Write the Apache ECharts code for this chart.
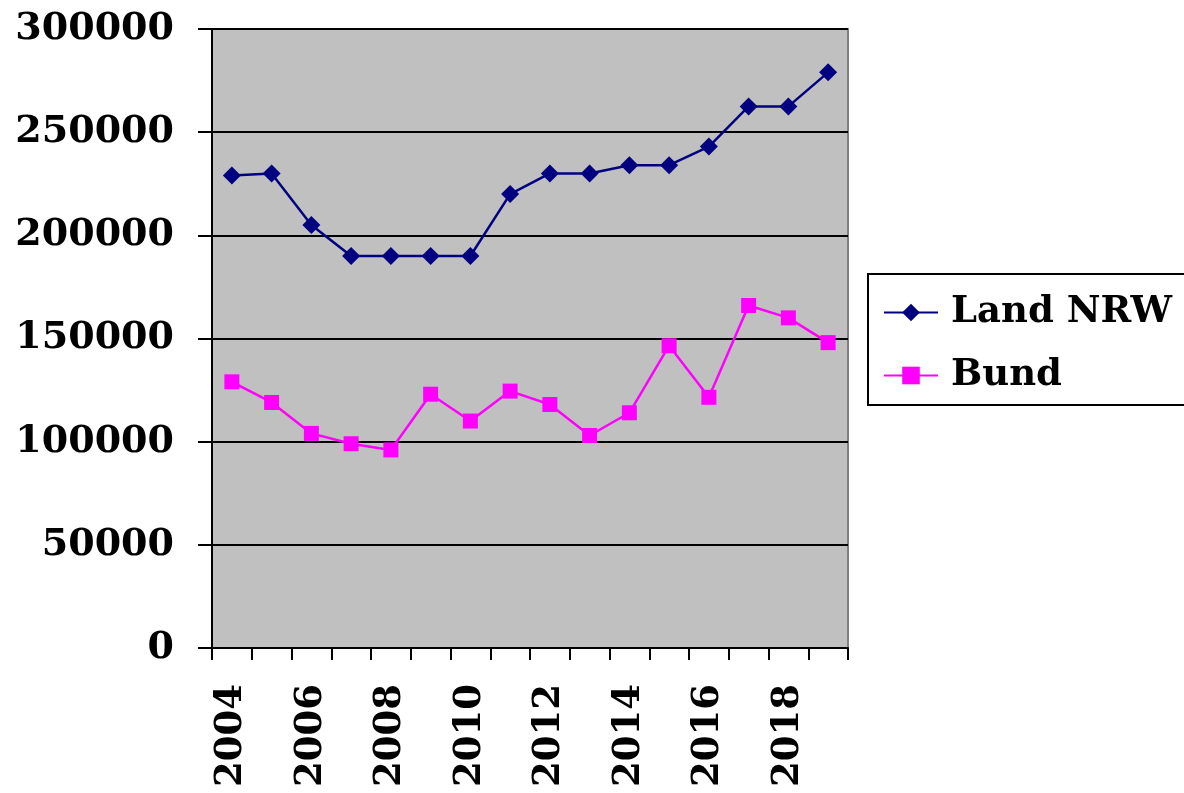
<!DOCTYPE html>
<html>
<head>
<meta charset="utf-8">
<script src="https://cdn.jsdelivr.net/npm/echarts@6/dist/echarts.min.js"></script>
<style>
  html, body { margin: 0; padding: 0; background: #fff; }
  #chart { width: 1184px; height: 793px; }
</style>
</head>
<body>
<div id="chart"></div>
<script>
const years = ['2004', '2005', '2006', '2007', '2008', '2009', '2010', '2011',
  '2012', '2013', '2014', '2015', '2016', '2017', '2018', '2019']
const landNRW = [229000, 230000, 205000, 190000, 190000, 190000, 190000, 220000,
  230000, 230000, 234000, 234000, 243000, 262500, 262500, 279000]
const bund = [129000, 119000, 104000, 99000, 96000, 123000, 110000, 124500,
  118000, 103000, 114000, 146500, 121500, 166000, 160000, 148000]

const font = 'DejaVu Serif'
const chart = echarts.init(document.getElementById('chart'))

chart.setOption({
  animation: false,
  backgroundColor: '#fff',
  grid: {
    left: 212, right: 336, top: 29, bottom: 145,
    outerBoundsMode: 'none',
    containLabel: false,
    show: true,
    backgroundColor: '#c0c0c0',
    borderColor: '#808080',
    borderWidth: 2
  },
  legend: {
    left: 868, top: 274,
    orient: 'vertical',
    backgroundColor: '#fff',
    borderColor: '#000',
    borderWidth: 2,
    padding: [20, 30, 11, 15],
    itemGap: 26,
    itemWidth: 54,
    itemHeight: 22,
    textStyle: {
      fontFamily: font, fontWeight: 'bold', fontSize: 37, color: '#000',
      padding: [0, 0, 0, 8]
    },
    data: ['Land NRW', 'Bund']
  },
  xAxis: {
    type: 'category',
    data: years,
    boundaryGap: true,
    axisLine: { lineStyle: { color: '#000', width: 2 } },
    axisTick: { show: true, interval: 0, length: 12, lineStyle: { color: '#000', width: 2 } },
    axisLabel: {
      interval: 1,
      rotate: 90,
      margin: 36,
      fontFamily: font, fontWeight: 'bold', fontSize: 37, color: '#000'
    },
    splitLine: { show: false }
  },
  yAxis: {
    type: 'value',
    min: 0, max: 300000, interval: 50000,
    axisLine: { show: true, lineStyle: { color: '#000', width: 2 } },
    axisTick: { show: true, length: 14, lineStyle: { color: '#000', width: 2 } },
    axisLabel: {
      margin: 38,
      formatter: v => String(v),
      fontFamily: font, fontWeight: 'bold', fontSize: 38, color: '#000'
    },
    splitLine: { lineStyle: { color: '#000', width: 2 } }
  },
  series: [
    {
      name: 'Land NRW',
      type: 'line',
      data: landNRW,
      symbol: 'diamond',
      symbolSize: 18,
      itemStyle: { color: '#000080' },
      lineStyle: { color: '#000080', width: 2.5 }
    },
    {
      name: 'Bund',
      type: 'line',
      data: bund,
      symbol: 'rect',
      symbolSize: 15,
      itemStyle: { color: '#ff00ff' },
      lineStyle: { color: '#ff00ff', width: 2.5 }
    }
  ]
})
</script>
</body>
</html>
